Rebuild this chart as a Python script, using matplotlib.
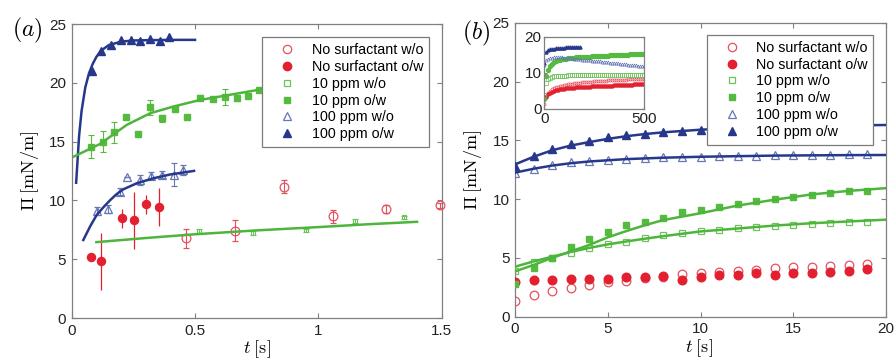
import matplotlib
matplotlib.use("Agg")
import matplotlib.pyplot as plt
from matplotlib.lines import Line2D
import numpy as np

plt.rcParams['font.family'] = ['Liberation Sans', 'DejaVu Sans']
plt.rcParams['mathtext.fontset'] = 'cm'

# ---------------- colours ----------------
RED = '#e3202f'
RED_O = '#e4505e'
GRN = '#55bb3f'
GRN_O = '#6cc35a'
GRN_L = '#4db53c'
BLU = '#27388c'
BLU_O = '#6677b5'

labels = ['No surfactant w/o', 'No surfactant o/w', '10 ppm w/o',
          '10 ppm o/w', '100 ppm w/o', '100 ppm o/w']

# ---------------- panel (a) data ----------------
a_p100ow_t = [0.081, 0.119, 0.159, 0.200, 0.239, 0.278, 0.318, 0.359, 0.396]
a_p100ow_v = [21.0, 22.7, 23.2, 23.6, 23.6, 23.55, 23.7, 23.55, 23.9]
a_p100ow_fit_t = [0.018, 0.03, 0.04, 0.055, 0.07, 0.085, 0.10, 0.12, 0.15, 0.20, 0.25, 0.30, 0.40, 0.50]
a_p100ow_fit_v = [11.5, 15.5, 17.6, 19.6, 20.8, 21.6, 22.2, 22.75, 23.2, 23.5, 23.6, 23.62, 23.65, 23.65]

a_p100wo_t = [0.101, 0.148, 0.196, 0.226, 0.277, 0.322, 0.368, 0.415, 0.453]
a_p100wo_v = [9.1, 9.27, 10.75, 11.95, 11.75, 12.1, 12.2, 12.2, 12.6]
a_p100wo_e = [0.3, 0.3, 0.3, 0.0, 0.4, 0.3, 0.3, 1.0, 0.4]
a_p100wo_fit_t = [0.047, 0.075, 0.101, 0.13, 0.155, 0.18, 0.209, 0.263, 0.331, 0.398, 0.496]
a_p100wo_fit_v = [6.63, 7.8, 8.75, 9.45, 10.0, 10.5, 10.94, 11.45, 11.88, 12.2, 12.51]

a_p10ow_t = [0.077, 0.126, 0.173, 0.220, 0.269, 0.318, 0.368, 0.419, 0.469, 0.520, 0.572, 0.623, 0.670, 0.716, 0.761]
a_p10ow_v = [14.58, 15.0, 15.8, 17.13, 15.66, 17.92, 16.99, 17.78, 17.13, 18.74, 18.63, 18.77, 18.69, 18.88, 19.39]
a_p10ow_e = [1.0, 0.9, 0.9, 0.0, 0.0, 0.65, 0.3, 0.2, 0.0, 0.2, 0.2, 0.7, 0.2, 0.15, 0.0]
a_p10ow_fit_t = [0.009, 0.115, 0.223, 0.318, 0.412, 0.52, 0.655, 0.77, 0.80]
a_p10ow_fit_v = [13.73, 14.8, 16.42, 17.41, 17.98, 18.54, 19.03, 19.45, 19.55]

a_p10wo_t = [0.516, 0.736, 0.950, 1.149, 1.347]
a_p10wo_v = [7.38, 7.21, 7.45, 8.26, 8.55]
a_p10wo_e = [0.15, 0.15, 0.15, 0.15, 0.15]
a_p10wo_fit_t = [0.10, 0.30, 0.50, 0.75, 1.00, 1.20, 1.40]
a_p10wo_fit_v = [6.45, 6.8, 7.12, 7.45, 7.73, 7.97, 8.18]

a_nsow_t = [0.077, 0.119, 0.205, 0.253, 0.301, 0.355]
a_nsow_v = [5.15, 4.81, 8.49, 8.3, 9.68, 9.43]
a_nsow_e = [0.0, 2.4, 0.8, 2.4, 0.8, 1.6]

a_nswo_t = [0.464, 0.662, 0.861, 1.058, 1.273, 1.493]
a_nswo_v = [6.77, 7.42, 11.18, 8.64, 9.26, 9.57]
a_nswo_e = [0.78, 0.88, 0.57, 0.57, 0.33, 0.2]

# ---------------- panel (b) data ----------------
b_t = list(range(20))
b_nswo = [1.33, 1.81, 2.18, 2.47, 2.69, 2.92, 3.06, 3.32, 3.40, 3.60,
          3.68, 3.83, 3.91, 3.97, 4.11, 4.19, 4.25, 4.34, 4.39, 4.48]
b_nsow = [2.98, 3.12, 3.12, 3.17, 3.20, 3.20, 3.34, 3.34, 3.46, 3.12,
          3.34, 3.54, 3.54, 3.74, 3.54, 3.74, 3.74, 3.83, 3.88, 4.02]
b_p10wo = [3.91, 4.62, 4.96, 5.39, 5.81, 6.15, 6.38, 6.66, 6.92, 7.09,
           7.26, 7.40, 7.51, 7.62, 7.71, 7.79, 7.88, 7.96, 8.02, 8.08]
b_p10ow = [2.75, 4.10, 4.96, 5.90, 6.58, 7.23, 7.77, 8.08, 8.42, 8.87,
           9.04, 9.33, 9.55, 9.81, 9.98, 10.18, 10.35, 10.54, 10.69, 10.71]
b_p100wo = [12.19, 12.60, 12.90, 13.12, 13.24, 13.32, 13.40, 13.46, 13.55, 13.58,
            13.60, 13.65, 13.68, 13.70, 13.72, 13.74, 13.76, 13.78, 13.80, 13.82]
b_p100ow = [12.84, 13.66, 14.26, 14.68, 14.94, 15.25, 15.45, 15.56, 15.67, 15.79,
            15.85, 15.90, 15.95, 16.00, 16.05, 16.10, 16.15, 16.20, 16.22, 16.25]

b_fit_t = [0, 1, 2, 3, 4, 5, 6, 7, 8, 10, 12, 14, 16, 18, 20]
b_p10ow_fit = [3.85, 4.4, 5.0, 5.55, 6.1, 6.75, 7.28, 7.78, 8.22, 8.8, 9.45, 9.95, 10.4, 10.7, 10.93]
b_p10wo_fit = [4.25, 4.7, 5.1, 5.5, 5.85, 6.15, 6.4, 6.63, 6.85, 7.25, 7.5, 7.75, 7.95, 8.1, 8.25]
b_p100ow_fit = [12.95, 13.6, 14.15, 14.55, 14.85, 15.12, 15.35, 15.53, 15.68, 15.9, 16.05, 16.15, 16.22, 16.27, 16.3]
b_p100wo_fit = [12.25, 12.58, 12.85, 13.05, 13.2, 13.3, 13.4, 13.46, 13.52, 13.6, 13.65, 13.7, 13.72, 13.74, 13.75]

# ---------------- inset data (every 10 s) ----------------
i_t = list(range(0, 510, 10))
i_nswo = [1.3, 3.7, 4.5, 5.0, 5.4, 5.7, 5.95, 6.15, 6.3, 6.45, 6.6, 6.7, 6.8, 6.9, 7.0, 7.1, 7.15,
          7.2, 7.3, 7.35, 7.4, 7.45, 7.5, 7.55, 7.6, 7.65, 7.7, 7.72, 7.75, 7.8, 7.83, 7.86, 7.9,
          7.93, 7.96, 8.0, 8.02, 8.05, 8.08, 8.1, 8.13, 8.15, 8.18, 8.2, 8.22, 8.25, 8.27, 8.3,
          8.32, 8.35, 8.37]
i_nsow = [3.0, 3.35, 4.1, 4.5, 4.8, 5.0, 5.15, 5.3, 5.4, 5.5, 5.6, 5.7, 5.75, 5.8, 5.85, 5.9, 5.95,
          6.0, 6.05, 6.1, 6.12, 6.15, 6.18, 6.2, 6.23, 6.26, 6.29, 6.32, 6.35, 6.38, 6.4, 6.43, 6.46,
          6.48, 6.5, 6.53, 6.55, 6.58, 6.6, 6.63, 6.65, 6.68, 6.7, 6.73, 6.75, 6.78, 6.8, 6.83,
          6.85, 6.88, 6.9]
i_p10wo = [3.9, 7.3, 8.2, 8.6, 8.85, 9.0, 9.1, 9.15, 9.2, 9.2, 9.25, 9.25, 9.3, 9.3, 9.3, 9.3, 9.3,
           9.35, 9.35, 9.35, 9.35, 9.35, 9.35, 9.38, 9.38, 9.38, 9.38, 9.38, 9.4, 9.4, 9.4, 9.4,
           9.4, 9.4, 9.4, 9.42, 9.42, 9.42, 9.42, 9.42, 9.42, 9.43, 9.43, 9.43, 9.44, 9.44, 9.44,
           9.45, 9.45, 9.45, 9.45]
i_p10ow = [2.75, 9.1, 10.9, 11.9, 12.5, 12.9, 13.2, 13.45, 13.6, 13.75, 13.85, 13.95, 14.0, 14.1,
           14.15, 14.2, 14.25, 14.3, 14.35, 14.4, 14.42, 14.45, 14.5, 14.52, 14.55, 14.58, 14.6,
           14.63, 14.66, 14.7, 14.72, 14.75, 14.78, 14.8, 14.83, 14.86, 14.88, 14.9, 14.93, 14.96,
           15.0, 15.02, 15.05, 15.08, 15.1, 15.13, 15.16, 15.2, 15.22, 15.25, 15.28]
i_p100wo = [12.2, 13.6, 13.85, 14.05, 14.2, 14.25, 14.3, 14.3, 14.28, 14.25, 14.2, 14.15, 14.1,
            14.05, 13.98, 13.92, 13.86, 13.8, 13.74, 13.68, 13.62, 13.56, 13.5, 13.44, 13.38,
            13.32, 13.26, 13.2, 13.14, 13.08, 13.02, 12.96, 12.9, 12.84, 12.78, 12.72, 12.66,
            12.6, 12.54, 12.48, 12.42, 12.36, 12.3, 12.24, 12.18, 12.12, 12.06, 12.0, 11.94,
            11.88, 11.82]
i_p100ow_t = list(range(0, 190, 10))
i_p100ow = [12.8, 15.85, 16.3, 16.5, 16.62, 16.72, 16.8, 16.86, 16.92, 16.97, 17.0, 17.04,
            17.07, 17.1, 17.13, 17.16, 17.19, 17.22, 17.25]

# ---------------- figure ----------------
fig = plt.figure(figsize=(8.94, 3.61), dpi=100)
axA = fig.add_axes([71.7/894, 1-318/361, 370/894, 294/361])
axB = fig.add_axes([515/894, 1-316.7/361, 371/894, 294/361])
axI = fig.add_axes([544.3/894, 1-109/361, 100/894, 72.3/361])

SPINE = '#808080'
def style(ax, fs=11):
    for s in ax.spines.values():
        s.set_color(SPINE)
        s.set_linewidth(0.9)
    ax.tick_params(direction='in', top=True, right=True, length=3.5, width=0.8,
                   color=SPINE, labelsize=fs, labelcolor='#222222', pad=4)

eb_kw = dict(elinewidth=0.8, capsize=2.5, capthick=0.8, linestyle='none')

# ----- panel a -----
axA.errorbar(a_nswo_t, a_nswo_v, yerr=a_nswo_e, marker='o', ms=6.3, mfc='none', mec=RED_O,
             mew=0.9, ecolor=RED_O, clip_on=False, zorder=3, **eb_kw)
axA.errorbar(a_nsow_t, a_nsow_v, yerr=a_nsow_e, marker='o', ms=5.8, mfc=RED, mec=RED,
             ecolor=RED, elinewidth=0.9, capsize=0, linestyle='none', zorder=3)
axA.errorbar(a_p10wo_t, a_p10wo_v, yerr=a_p10wo_e, marker='s', ms=3.2, mfc='none', mec=GRN_O,
             mew=0.8, ecolor=GRN_O, zorder=3, **eb_kw)
axA.errorbar(a_p10ow_t, a_p10ow_v, yerr=a_p10ow_e, marker='s', ms=4.8, mfc=GRN, mec=GRN,
             ecolor=GRN, zorder=3, **eb_kw)
axA.errorbar(a_p100wo_t, a_p100wo_v, yerr=a_p100wo_e, marker='^', ms=6.3, mfc='none', mec=BLU_O,
             mew=0.9, ecolor=BLU_O, zorder=3, **eb_kw)
axA.plot(a_p100ow_t, a_p100ow_v, marker='^', ms=6.3, mfc=BLU, mec=BLU, linestyle='none', zorder=3)

axA.plot(a_p100ow_fit_t, a_p100ow_fit_v, color=BLU, lw=1.8, zorder=4)
axA.plot(a_p100wo_fit_t, a_p100wo_fit_v, color=BLU, lw=1.8, zorder=4)
axA.plot(a_p10ow_fit_t, a_p10ow_fit_v, color=GRN_L, lw=1.8, zorder=4)
axA.plot(a_p10wo_fit_t, a_p10wo_fit_v, color=GRN_L, lw=1.8, zorder=4)

axA.set_xlim(0, 1.5)
axA.set_ylim(0, 25)
axA.set_xticks([0, 0.5, 1, 1.5])
axA.set_xticklabels(['0', '0.5', '1', '1.5'])
axA.set_yticks([0, 5, 10, 15, 20, 25])
style(axA)
axA.set_xlabel(r'$t\;[\mathrm{s}]$', fontsize=13)
axA.set_ylabel(r'$\Pi\;[\mathrm{mN/m}]$', fontsize=13)
axA.xaxis.set_label_coords(0.5, -0.07)
axA.yaxis.set_label_coords(-0.083, 0.5)

# ----- panel b -----
axB.plot(b_t, b_nswo, marker='o', ms=6.2, mfc='none', mec=RED_O, mew=0.9, linestyle='none', zorder=3)
axB.plot(b_t, b_nsow, marker='o', ms=6.2, mfc=RED, mec=RED, linestyle='none', zorder=3)
axB.plot(b_t, b_p10wo, marker='s', ms=4.8, mfc='none', mec=GRN_O, mew=0.9, linestyle='none', zorder=3)
axB.plot(b_t, b_p10ow, marker='s', ms=4.8, mfc=GRN, mec=GRN, linestyle='none', zorder=3)
axB.plot(b_t, b_p100wo, marker='^', ms=6.2, mfc='none', mec=BLU_O, mew=0.9, linestyle='none', zorder=3)
axB.plot(b_t, b_p100ow, marker='^', ms=6.2, mfc=BLU, mec=BLU, linestyle='none', zorder=3)

axB.plot(b_fit_t, b_p10ow_fit, color=GRN_L, lw=1.8, zorder=4)
axB.plot(b_fit_t, b_p10wo_fit, color=GRN_L, lw=1.8, zorder=4)
axB.plot(b_fit_t, b_p100ow_fit, color=BLU, lw=1.8, zorder=4)
axB.plot(b_fit_t, b_p100wo_fit, color=BLU, lw=1.8, zorder=4)

axB.set_xlim(0, 20)
axB.set_ylim(0, 25)
axB.set_xticks([0, 5, 10, 15, 20])
axB.set_yticks([0, 5, 10, 15, 20, 25])
style(axB)
axB.set_xlabel(r'$t\;[\mathrm{s}]$', fontsize=13)
axB.set_ylabel(r'$\Pi\;[\mathrm{mN/m}]$', fontsize=13)
axB.xaxis.set_label_coords(0.496, -0.07)
axB.yaxis.set_label_coords(-0.083, 0.5)

# ----- inset -----
ims = 2.2
axI.plot(i_t, i_nswo, marker='o', ms=ims, mfc='none', mec=RED_O, mew=0.5, linestyle='none')
axI.plot(i_t, i_nsow, marker='o', ms=ims, mfc=RED, mec=RED, linestyle='none')
axI.plot(i_t, i_p10wo, marker='s', ms=ims, mfc='none', mec=GRN_O, mew=0.5, linestyle='none')
axI.plot(i_t, i_p10ow, marker='o', ms=ims + 0.6, mfc=GRN, mec=GRN, linestyle='none')
axI.plot(i_t, i_p100wo, marker='^', ms=ims, mfc='none', mec=BLU_O, mew=0.5, linestyle='none')
axI.plot(i_p100ow_t, i_p100ow, marker='^', ms=ims, mfc=BLU, mec=BLU, linestyle='none')
axI.set_xlim(0, 500)
axI.set_ylim(0, 20)
axI.set_xticks([0, 500])
axI.set_yticks([0, 10, 20])
style(axI, fs=11)
axI.tick_params(length=2.5, pad=2)

# ----- legends -----
def handles():
    return [
        Line2D([], [], marker='o', ms=6, mfc='none', mec=RED_O, mew=0.9, linestyle='none'),
        Line2D([], [], marker='o', ms=6, mfc=RED, mec=RED, linestyle='none'),
        Line2D([], [], marker='s', ms=4.5, mfc='none', mec=GRN_O, mew=0.9, linestyle='none'),
        Line2D([], [], marker='s', ms=4.5, mfc=GRN, mec=GRN, linestyle='none'),
        Line2D([], [], marker='^', ms=6, mfc='none', mec=BLU_O, mew=0.9, linestyle='none'),
        Line2D([], [], marker='^', ms=6, mfc=BLU, mec=BLU, linestyle='none'),
    ]

leg_kw = dict(loc='upper right', fontsize=10.3, frameon=True, fancybox=False,
              edgecolor='#7a7a7a', framealpha=1, borderaxespad=0, borderpad=0.4,
              labelspacing=0.2, handlelength=2.7, handletextpad=0.35)
legA = axA.legend(handles(), labels, bbox_to_anchor=(0.9657, 0.955), **leg_kw)
legA.get_frame().set_linewidth(0.9)
legA.set_zorder(10)
legB = axB.legend(handles(), labels, bbox_to_anchor=(0.9658, 0.958), **leg_kw)
legB.get_frame().set_linewidth(0.9)
legB.set_zorder(10)

fig.text(12/894, 1-30/361, r'$(a)$', fontsize=17, va='center', ha='left')
fig.text(462/894, 1-33/361, r'$(b)$', fontsize=17, va='center', ha='left')

fig.savefig('out.png', dpi=100)
